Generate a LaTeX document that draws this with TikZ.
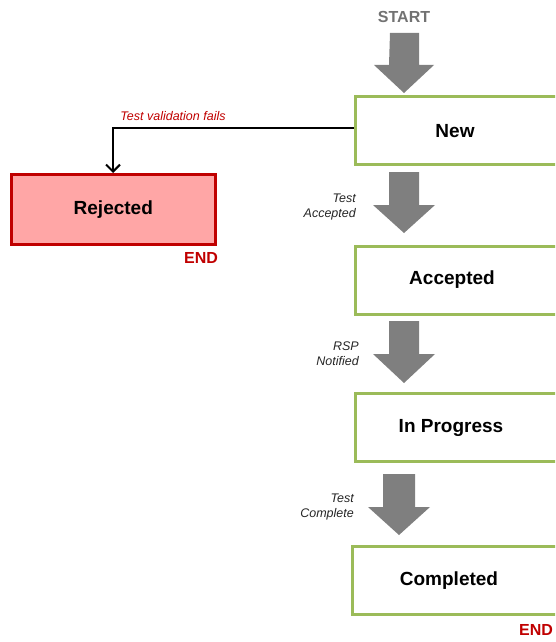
\documentclass[tikz,border=0pt]{standalone}
\usepackage{fontspec}
\setmainfont{Liberation Sans}
\usetikzlibrary{arrows.meta}
\definecolor{boxgreen}{HTML}{9BBB59}
\definecolor{rejfill}{HTML}{FFA6A6}
\definecolor{rejdraw}{HTML}{C00000}
\definecolor{arrgray}{HTML}{7F7F7F}
\definecolor{endred}{HTML}{C00000}
\tikzset{
  bigtext/.style={font=\fontsize{19}{22}\selectfont\bfseries, inner sep=0pt},
  statebox/.style={draw=boxgreen, line width=2.6pt, fill=white, minimum width=215pt, minimum height=68pt, inner sep=0pt},
  rejbox/.style={draw=rejdraw, line width=2.6pt, fill=rejfill, minimum width=204pt, minimum height=70pt, font=\fontsize{19}{22}\selectfont\bfseries, inner sep=0pt},
  endlbl/.style={text=endred, font=\fontsize{16}{18}\selectfont\bfseries, inner sep=0pt},
  translbl/.style={font=\fontsize{12.5}{15}\selectfont\itshape, align=right, inner sep=0pt, anchor=east, text=black!85},
  blockarrow/.style={fill=arrgray, draw=none}
}
\begin{document}
\begin{tikzpicture}[x=1pt,y=-1pt]
\useasboundingbox (0,0) rectangle (555,642);
\clip (0,0) rectangle (555,642);
% nodes
\node[statebox, anchor=north west] (new) at (354,95) {};
\node[bigtext] (newt) at (455,131) {New};
\node[statebox, anchor=north west] (acc) at (354,245) {};
\node[bigtext] (acct) at (452,280) {Accepted};
\node[statebox, anchor=north west] (prog) at (354,392) {};
\node[bigtext] (progt) at (451,428) {In Progress};
\node[statebox, anchor=north west] (comp) at (351,545) {};
\node[bigtext] (compt) at (449,581) {Completed};
\node[rejbox, anchor=north west] (rej) at (10,173) {Rejected};
% labels
\node[text=arrgray!90!black, font=\fontsize{16}{18}\selectfont\bfseries, inner sep=0pt] (start) at (404,17) {START};
\node[endlbl] (end1) at (201,258) {END};
\node[endlbl] (end2) at (536,630) {END};
\node[translbl] (l1) at (356,207) {Test\\Accepted};
\node[translbl] (l2) at (359,354) {RSP\\Notified};
\node[translbl] (l3) at (354,507) {Test\\Complete};
\node[text=endred, font=\fontsize{12.5}{14}\selectfont\itshape, inner sep=0pt] (l4) at (173,116) {Test validation fails};
% block arrows
\fill[blockarrow] (390,33) -- (419,33) -- (419,65) -- (434,65) -- (404,93) -- (374,65) -- (389,65) -- cycle;
\fill[blockarrow] (389,172) -- (419,172) -- (419,205) -- (435,205) -- (404,233) -- (373,205) -- (389,205) -- cycle;
\fill[blockarrow] (389,321) -- (419,321) -- (419,354) -- (435,354) -- (404,383) -- (373,354) -- (389,354) -- cycle;
\fill[blockarrow] (383,474) -- (415,474) -- (415,507) -- (430,507) -- (399,535) -- (368,507) -- (383,507) -- cycle;
% connector
\coordinate (bend) at (113,128);
\draw[line width=2pt, -{Straight Barb[length=7pt,width=14pt]}] (new.west |- bend) -- (bend) -- (rej.north -| bend);
\end{tikzpicture}
\end{document}
